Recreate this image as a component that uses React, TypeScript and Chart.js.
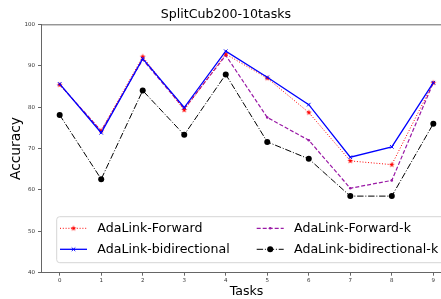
import React, { useEffect, useRef } from "react";
import { Chart, registerables } from "chart.js";
import { drawPoint } from "chart.js/helpers";

Chart.register(...registerables);

const tasks = [0, 1, 2, 3, 4, 5, 6, 7, 8, 9];
const yTicks = [40, 50, 60, 70, 80, 90, 100];
const forward = [85.4, 74.3, 92.2, 79.3, 92.8, 87.0, 78.7, 67.0, 66.1, 85.9];
const bidirectional = [85.6, 73.8, 91.7, 79.9, 93.5, 87.2, 80.6, 67.9, 70.4, 85.9];
const forwardK = [85.5, 74.2, 91.5, 79.6, 92.5, 77.5, 72.0, 60.4, 62.3, 85.9];
const bidirectionalK = [78.1, 62.6, 84.0, 73.3, 87.9, 71.6, 67.5, 58.5, 58.5, 76.0];
const labels = ["AdaLink-Forward", "AdaLink-bidirectional", "AdaLink-Forward-k", "AdaLink-bidirectional-k"];

const FONT = "'DejaVu Sans', sans-serif";

function makeStar(color: string, r: number): HTMLCanvasElement {
  const size = Math.ceil(r * 2 + 2);
  const c = document.createElement("canvas");
  c.width = size;
  c.height = size;
  const ctx = c.getContext("2d")!;
  const cx = size / 2, cy = size / 2;
  ctx.beginPath();
  for (let i = 0; i < 10; i++) {
    const ang = -Math.PI / 2 + (i * Math.PI) / 5;
    const rr = i % 2 === 0 ? r : r * 0.4;
    const x = cx + rr * Math.cos(ang);
    const y = cy + rr * Math.sin(ang);
    if (i === 0) ctx.moveTo(x, y); else ctx.lineTo(x, y);
  }
  ctx.closePath();
  ctx.fillStyle = color;
  ctx.fill();
  return c;
}

const frameAndLegend = {
  id: "frameAndLegend",
  afterDraw(chart: any) {
    const { ctx, chartArea } = chart;
    ctx.save();
    ctx.strokeStyle = "#666";
    ctx.lineWidth = 1;
    ctx.beginPath();
    ctx.moveTo(chartArea.left, chartArea.top + 0.5);
    ctx.lineTo(chartArea.right, chartArea.top + 0.5);
    ctx.stroke();

    // legend box
    const bx = 56.7, by = 216.7, bw = 390, bh = 46, rad = 3;
    ctx.beginPath();
    ctx.moveTo(bx + rad, by);
    ctx.lineTo(bx + bw - rad, by);
    ctx.arcTo(bx + bw, by, bx + bw, by + rad, rad);
    ctx.lineTo(bx + bw, by + bh - rad);
    ctx.arcTo(bx + bw, by + bh, bx + bw - rad, by + bh, rad);
    ctx.lineTo(bx + rad, by + bh);
    ctx.arcTo(bx, by + bh, bx, by + bh - rad, rad);
    ctx.lineTo(bx, by + rad);
    ctx.arcTo(bx, by, bx + rad, by, rad);
    ctx.closePath();
    ctx.fillStyle = "rgba(255,255,255,0.8)";
    ctx.fill();
    ctx.strokeStyle = "#d5d5d5";
    ctx.stroke();

    const cols = [60, 256.7];
    const rows = [228.3, 249.3];
    const handle = 27;
    const order = [0, 1, 2, 3];
    order.forEach((di, k) => {
      const ds = chart.data.datasets[di];
      const x = cols[Math.floor(k / 2)];
      const y = rows[k % 2];
      ctx.save();
      ctx.strokeStyle = ds.borderColor;
      ctx.lineWidth = ds.borderWidth;
      ctx.setLineDash(ds.borderDash || []);
      ctx.beginPath();
      ctx.moveTo(x, y);
      ctx.lineTo(x + handle, y);
      ctx.stroke();
      ctx.setLineDash([]);
      ctx.fillStyle = ds.pointBackgroundColor;
      ctx.strokeStyle = ds.pointBorderColor;
      ctx.lineWidth = ds.pointBorderWidth;
      drawPoint(ctx, { pointStyle: ds.pointStyle, radius: ds.pointRadius, rotation: 0, borderWidth: ds.pointBorderWidth }, x + handle / 2, y);
      ctx.restore();
      ctx.fillStyle = "#000";
      ctx.font = `12.6px ${FONT}`;
      ctx.textBaseline = "middle";
      ctx.textAlign = "left";
      ctx.fillText(ds.label, x + handle + 10.3, y);
    });
    ctx.restore();
  },
};

export default function App() {
  const ref = useRef<HTMLCanvasElement>(null);
  useEffect(() => {
    const star = makeStar("#ff0000", 3);
    const toXY = (arr: number[]) => arr.map((v, i) => ({ x: tasks[i], y: v }));
    const chart = new Chart(ref.current!, {
      type: "line",
      data: {
        datasets: [
          {
            label: labels[0],
            data: toXY(forward),
            borderColor: "#ff0000",
            borderWidth: 1,
            borderDash: [1, 1.8],
            pointStyle: star as any,
            pointRadius: 3,
            pointBackgroundColor: "#ff0000",
            pointBorderColor: "#ff0000",
            pointBorderWidth: 1,
            order: 1,
          },
          {
            label: labels[1],
            data: toXY(bidirectional),
            borderColor: "#0000ff",
            borderWidth: 1.3,
            pointStyle: "crossRot",
            pointRadius: 2.5,
            pointBackgroundColor: "#0000ff",
            pointBorderColor: "#0000ff",
            pointBorderWidth: 1,
            order: 0,
          },
          {
            label: labels[2],
            data: toXY(forwardK),
            borderColor: "#9a1aa6",
            borderWidth: 1.2,
            borderDash: [4, 2],
            pointStyle: "circle",
            pointRadius: 1.3,
            pointBackgroundColor: "#9a1aa6",
            pointBorderColor: "#9a1aa6",
            pointBorderWidth: 0,
            order: 2,
          },
          {
            label: labels[3],
            data: toXY(bidirectionalK),
            borderColor: "#000000",
            borderWidth: 1,
            borderDash: [6.4, 1.8, 1, 1.8],
            pointStyle: "circle",
            pointRadius: 3,
            pointBackgroundColor: "#000000",
            pointBorderColor: "#000000",
            pointBorderWidth: 0,
            order: 3,
          },
        ],
      },
      options: {
        responsive: false,
        animation: false,
        layout: { padding: { left: 0, right: 8, top: 0, bottom: 0 } },
        plugins: {
          legend: { display: false },
          tooltip: { enabled: false },
          title: {
            display: true,
            text: "SplitCub200-10tasks",
            color: "#000",
            font: { family: FONT, size: 12.6, weight: "normal" },
            padding: { top: 6.7, bottom: 2.5 },
          },
        },
        scales: {
          x: {
            type: "linear",
            min: -0.45,
            max: 9.45,
            afterBuildTicks: (axis: any) => {
              axis.ticks = tasks.map((v) => ({ value: v }));
            },
            afterFit: (axis: any) => {
              axis.height = 26.3;
            },
            ticks: {
              color: "#333",
              font: { family: FONT, size: 5.5 },
              padding: 2,
              maxRotation: 0,
              autoSkip: false,
            },
            grid: { display: true, drawOnChartArea: false, drawTicks: true, tickLength: 3, color: "#666" },
            border: { display: true, color: "#666", width: 1 },
            title: {
              display: true,
              text: "Tasks",
              color: "#000",
              font: { family: FONT, size: 12.6 },
              padding: { top: 0, bottom: -0.5 },
            },
          },
          y: {
            type: "linear",
            min: 40,
            max: 100,
            afterBuildTicks: (axis: any) => {
              axis.ticks = yTicks.map((v) => ({ value: v }));
            },
            afterFit: (axis: any) => {
              axis.width = 41;
            },
            ticks: {
              color: "#333",
              font: { family: FONT, size: 5.5 },
              padding: 3,
            },
            grid: { display: true, drawOnChartArea: false, drawTicks: true, tickLength: 3, color: "#666" },
            border: { display: true, color: "#666", width: 1 },
            title: {
              display: true,
              text: "Accuracy",
              color: "#000",
              font: { family: FONT, size: 13.8 },
              padding: { top: 8.5, bottom: 0 },
            },
          },
        },
      },
      plugins: [frameAndLegend],
    });
    return () => chart.destroy();
  }, []);
  return (
    <div style={{ position: "absolute", left: 0, top: 0, width: 441, height: 299, overflow: "hidden", background: "#fff" }}>
      <canvas ref={ref} width={460} height={299} style={{ display: "block" }} />
    </div>
  );
}
